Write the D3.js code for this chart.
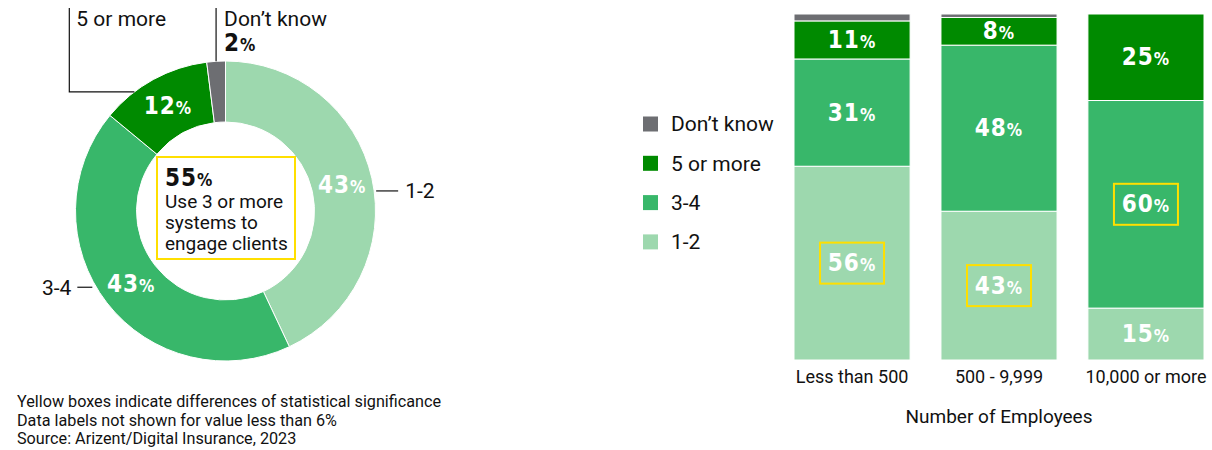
<!DOCTYPE html>
<html>
<head>
<meta charset="utf-8">
<script src="https://cdn.jsdelivr.net/npm/d3@7"></script>
<style>
  body { margin: 0; background: #fff; }
  svg { display: block; font-family: Roboto, "Open Sans", sans-serif; }
  .pct { font-family: "DejaVu Sans Condensed", "DejaVu Sans", sans-serif; font-stretch: condensed; font-weight: bold; letter-spacing: 1px; }
</style>
</head>
<body>
<script>
const width = 1212, height = 450;

// donut data
const donutCats = ["1-2", "3-4", "5 or more", "Don\u2019t know"];
const donutValues = [43, 43, 12, 2];
const centerValue = 55;
const centerText = ["Use 3 or more", "systems to", "engage clients"];

// stacked bars data
const barGroups = ["Less than 500", "500 - 9,999", "10,000 or more"];
const stackKeys = ["1-2", "3-4", "5 or more", "Don\u2019t know"];
const vals12 = [56, 43, 15];
const vals34 = [31, 48, 60];
const vals5plus = [11, 8, 25];
const valsDontKnow = [2, 1, 0];
// significant cells (group, key)
const significant = [["Less than 500", "1-2"], ["500 - 9,999", "1-2"], ["10,000 or more", "3-4"]];
const legendOrder = ["Don\u2019t know", "5 or more", "3-4", "1-2"];

const notes = [
    "Yellow boxes indicate differences of statistical significance",
    "Data labels not shown for value less than 6%",
    "Source: Arizent/Digital Insurance, 2023"
];

const color = d3.scaleOrdinal()
    .domain(["1-2", "3-4", "5 or more", "Don\u2019t know"])
    .range(["#9dd8ae", "#38b76a", "#008a00", "#6d6e72"]);
const yellow = "#ffdf00";

const svg = d3.select("body").append("svg")
    .attr("width", width)
    .attr("height", height);

// percentage label with smaller % sign
function pctText(sel, v, big, small) {
    sel.append("tspan").style("font-size", big + "px").text(v);
    sel.append("tspan").style("font-size", small + "px").text("%");
}

// ---------- donut ----------
const R = 150, r = 89;
const donut = svg.append("g").attr("transform", "translate(225.5,211)");
const pie = d3.pie().sort(null).value(d => d.v);
const slices = pie(donutCats.map((c, i) => ({ c: c, v: donutValues[i] })));
const arc = d3.arc().innerRadius(r).outerRadius(R);

donut.selectAll("path.slice")
    .data(slices)
    .enter()
    .append("path")
    .attr("class", "slice")
    .attr("d", arc)
    .attr("fill", d => color(d.data.c))
    .attr("stroke", "#fff")
    .attr("stroke-width", 1);

donut.selectAll("text.slabel")
    .data(slices.filter(d => d.data.v >= 6))
    .enter()
    .append("text")
    .attr("class", "slabel pct")
    .attr("x", d => arc.centroid(d)[0])
    .attr("y", d => arc.centroid(d)[1] + 8)
    .attr("text-anchor", "middle")
    .attr("fill", "#fff")
    .each(function (d) { pctText(d3.select(this), d.data.v, 24, 17); });

// leaders
const leaders = donut.append("g").attr("stroke", "#111").attr("stroke-width", 1.2).attr("fill", "none");
const lbl = donut.append("g").style("font-size", "21px").attr("fill", "#111");

// 1-2 : right side
{
    const c = arc.centroid(slices[0]);
    const y = c[1] + 6;
    const x0 = Math.sqrt(R * R - y * y) + 2;
    leaders.append("line").attr("x1", x0).attr("x2", x0 + 22).attr("y1", y).attr("y2", y);
    lbl.append("text").attr("x", x0 + 29).attr("y", y).attr("dy", "0.35em").text(slices[0].data.c);
}
// 3-4 : left side
{
    const c = arc.centroid(slices[1]);
    const y = c[1] + 3;
    const x0 = -Math.sqrt(R * R - y * y) - 4;
    leaders.append("line").attr("x1", x0).attr("x2", x0 - 15).attr("y1", y).attr("y2", y);
    lbl.append("text").attr("x", x0 - 21).attr("y", y).attr("dy", "0.35em")
        .attr("text-anchor", "end").text(slices[1].data.c);
}
// 5 or more : elbow up-left
{
    const s = slices[2];
    const a = s.startAngle + 0.3 * (s.endAngle - s.startAngle);
    const px = R * Math.sin(a), py = -R * Math.cos(a);
    const vx = px - 65;
    leaders.append("polyline").attr("points", [[px, py], [vx, py], [vx, -203]].join(" "));
    lbl.append("text").attr("x", vx + 7).attr("y", -185).text(s.data.c);
}
// Don't know : straight up
{
    const s = slices[3];
    const a = (s.startAngle + s.endAngle) / 2;
    const px = R * Math.sin(a), py = -R * Math.cos(a);
    leaders.append("line").attr("x1", px).attr("x2", px).attr("y1", py).attr("y2", -203);
    lbl.append("text").attr("x", px + 8).attr("y", -185).text(s.data.c);
    const t = lbl.append("text").attr("class", "pct").attr("x", px + 8).attr("y", -160);
    pctText(t, s.data.v, 24, 17);
}

// center box
donut.append("rect")
    .attr("x", -68.5).attr("y", -54)
    .attr("width", 138).attr("height", 102)
    .attr("fill", "#fff")
    .attr("stroke", yellow)
    .attr("stroke-width", 2);
const ct = donut.append("text").attr("class", "pct").attr("x", -60.5).attr("y", -25).attr("fill", "#111");
pctText(ct, centerValue, 24, 17);
donut.selectAll("text.ctext")
    .data(centerText)
    .enter()
    .append("text")
    .attr("class", "ctext")
    .attr("x", -60.5)
    .attr("y", (d, i) => -3 + i * 21)
    .style("font-size", "19px")
    .attr("fill", "#111")
    .text(d => d);

// ---------- footnotes ----------
svg.append("g").selectAll("text")
    .data(notes)
    .enter()
    .append("text")
    .attr("x", 17)
    .attr("y", (d, i) => 407 + i * 18.5)
    .style("font-size", "16.2px")
    .attr("fill", "#111")
    .text(d => d);

// ---------- stacked bars ----------
const rows = barGroups.map((g, i) => ({
    group: g,
    "1-2": vals12[i],
    "3-4": vals34[i],
    "5 or more": vals5plus[i],
    "Don\u2019t know": valsDontKnow[i]
}));
const series = d3.stack().keys(stackKeys)(rows);

const xScale = d3.scaleBand().domain(barGroups).range([794, 1204]).paddingInner(0.21).paddingOuter(0);
const yScale = d3.scaleLinear().domain([0, 100]).range([360, 14]);

const layers = svg.append("g").selectAll("g.layer")
    .data(series)
    .enter()
    .append("g")
    .attr("class", "layer")
    .attr("fill", d => color(d.key));

layers.selectAll("rect")
    .data(d => d.map(p => ({ key: d.key, p: p })))
    .enter()
    .filter(d => d.p[1] - d.p[0] > 0)
    .append("rect")
    .attr("x", d => xScale(d.p.data.group))
    .attr("width", xScale.bandwidth())
    .attr("y", d => yScale(d.p[1]))
    .attr("height", d => yScale(d.p[0]) - yScale(d.p[1]))
    .attr("stroke", "#fff")
    .attr("stroke-width", 1);

const cells = [];
series.forEach(s => s.forEach(p => {
    const v = p[1] - p[0];
    if (v >= 6) cells.push({ key: s.key, group: p.data.group, v: v, y0: p[0], y1: p[1] });
}));

const cellG = svg.append("g");
cellG.selectAll("rect.sig")
    .data(cells.filter(c => significant.some(s => s[0] === c.group && s[1] === c.key)))
    .enter()
    .append("rect")
    .attr("class", "sig")
    .attr("x", d => xScale(d.group) + xScale.bandwidth() / 2 - 32)
    .attr("y", d => yScale((d.y0 + d.y1) / 2) - 20.5)
    .attr("width", 64)
    .attr("height", 41)
    .attr("fill", "none")
    .attr("stroke", yellow)
    .attr("stroke-width", 2);

cellG.selectAll("text.blabel")
    .data(cells)
    .enter()
    .append("text")
    .attr("class", "blabel pct")
    .attr("x", d => xScale(d.group) + xScale.bandwidth() / 2)
    .attr("y", d => yScale((d.y0 + d.y1) / 2) + 8)
    .attr("text-anchor", "middle")
    .attr("fill", "#fff")
    .each(function (d) { pctText(d3.select(this), d.v, 24, 17); });

// x axis
const xAxis = svg.append("g")
    .attr("transform", "translate(0,360)")
    .call(d3.axisBottom(xScale).tickSize(0).tickPadding(10));
xAxis.select(".domain").remove();
xAxis.selectAll("text")
    .style("font-size", "18px")
    .style("font-family", "Roboto, sans-serif")
    .attr("fill", "#111");

svg.append("text")
    .attr("x", (794 + 1204) / 2)
    .attr("y", 423)
    .attr("text-anchor", "middle")
    .style("font-size", "19px")
    .attr("fill", "#111")
    .text("Number of Employees");

// legend
const legend = svg.append("g").attr("transform", "translate(643,124)");
const legendItem = legend.selectAll("g")
    .data(legendOrder)
    .enter()
    .append("g")
    .attr("transform", (d, i) => "translate(0," + (i * 39.3) + ")");
legendItem.append("rect")
    .attr("x", 0).attr("y", -7.5)
    .attr("width", 15).attr("height", 15)
    .attr("fill", d => color(d));
legendItem.append("text")
    .attr("x", 28)
    .attr("dy", "0.35em")
    .style("font-size", "21px")
    .attr("fill", "#111")
    .text(d => d);
</script>
</body>
</html>
